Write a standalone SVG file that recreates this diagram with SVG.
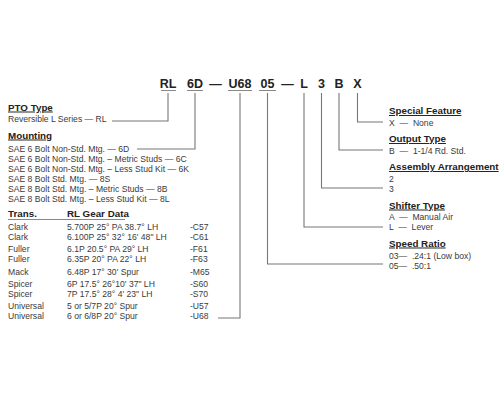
<svg xmlns="http://www.w3.org/2000/svg" width="500" height="400" viewBox="0 0 500 400">
<style>
text{font-family:"Liberation Sans",Arial,sans-serif;}
.code{font-size:12.5px;font-weight:bold;fill:#222;text-anchor:middle;}
.h{font-size:9.8px;font-weight:bold;fill:#222;text-decoration:underline;}
.hn{font-size:9.8px;font-weight:bold;fill:#222;}
.t{font-size:8.6px;fill:#3a3a3a;}
.ul{stroke:#888;stroke-width:1;}
.conn path{fill:none;stroke:#777;stroke-width:1.1;}
</style>
<rect width="500" height="400" fill="#fff"/>
<g id="code">
<text class="code" x="168" y="88">RL</text>
<text class="code" x="195" y="88">6D</text>
<text class="code" x="215.5" y="88">—</text>
<text class="code" x="240" y="88">U68</text>
<text class="code" x="267.5" y="88">05</text>
<text class="code" x="287.5" y="88">—</text>
<text class="code" x="304" y="88">L</text>
<text class="code" x="321.5" y="88">3</text>
<text class="code" x="339" y="88">B</text>
<text class="code" x="357.5" y="88">X</text>
<line class="ul" x1="161" y1="90.5" x2="176" y2="90.5"/>
<line class="ul" x1="187" y1="90.5" x2="203" y2="90.5"/>
<line class="ul" x1="228" y1="90.5" x2="252" y2="90.5"/>
<line class="ul" x1="259" y1="90.5" x2="276" y2="90.5"/>
</g>
<g id="pto">
<text class="h" x="8" y="110.5">PTO Type</text>
<text class="t" x="8" y="122">Reversible L Series — RL</text>
</g>
<g id="mounting">
<text class="h" x="8" y="138.5">Mounting</text>
<text class="t" x="8" y="151.5">SAE 6 Bolt Non-Std. Mtg. — 6D</text>
<text class="t" x="8" y="161.6">SAE 6 Bolt Non-Std. Mtg. – Metric Studs — 6C</text>
<text class="t" x="8" y="171.7">SAE 6 Bolt Non-Std. Mtg. – Less Stud Kit — 6K</text>
<text class="t" x="8" y="181.8">SAE 8 Bolt Std. Mtg. — 8S</text>
<text class="t" x="8" y="191.9">SAE 8 Bolt Std. Mtg. – Metric Studs — 8B</text>
<text class="t" x="8" y="202">SAE 8 Bolt Std. Mtg. – Less Stud Kit — 8L</text>
</g>
<g id="gear">
<text class="hn" x="8" y="216.5">Trans.</text>
<text class="hn" x="67" y="216.5">RL Gear Data</text>
<line class="ul" x1="8" y1="219.5" x2="125" y2="219.5"/>
<text class="t" x="8" y="230.4">Clark</text><text class="t" x="67" y="230.4">5.700P 25° PA 38.7° LH</text><text class="t" x="190" y="230.4">-C57</text>
<text class="t" x="8" y="240">Clark</text><text class="t" x="67" y="240">6.100P 25° 32° 16' 48" LH</text><text class="t" x="190" y="240">-C61</text>
<text class="t" x="8" y="252.4">Fuller</text><text class="t" x="67" y="252.4">6.1P 20.5° PA 29° LH</text><text class="t" x="190" y="252.4">-F61</text>
<text class="t" x="8" y="262.2">Fuller</text><text class="t" x="67" y="262.2">6.35P 20° PA 22° LH</text><text class="t" x="190" y="262.2">-F63</text>
<text class="t" x="8" y="274.5">Mack</text><text class="t" x="67" y="274.5">6.48P 17° 30' Spur</text><text class="t" x="190" y="274.5">-M65</text>
<text class="t" x="8" y="287">Spicer</text><text class="t" x="67" y="287">6P 17.5° 26°10' 37" LH</text><text class="t" x="190" y="287">-S60</text>
<text class="t" x="8" y="297.4">Spicer</text><text class="t" x="67" y="297.4">7P 17.5° 28° 4' 23" LH</text><text class="t" x="190" y="297.4">-S70</text>
<text class="t" x="8" y="309.2">Universal</text><text class="t" x="67" y="309.2">5 or 5/7P 20° Spur</text><text class="t" x="190" y="309.2">-U57</text>
<text class="t" x="8" y="319.2">Universal</text><text class="t" x="67" y="319.2">6 or 6/8P 20° Spur</text><text class="t" x="190" y="319.2">-U68</text>
</g>
<g id="special">
<text class="h" x="389" y="114">Special Feature</text>
<text class="t" x="389" y="125.5">X &#160;—&#160; None</text>
</g>
<g id="output">
<text class="h" x="389" y="142">Output Type</text>
<text class="t" x="389" y="153.5">B &#160;—&#160; 1-1/4 Rd. Std.</text>
</g>
<g id="assembly">
<text class="h" x="389" y="170">Assembly Arrangement</text>
<text class="t" x="389" y="182">2</text>
<text class="t" x="389" y="191.5">3</text>
</g>
<g id="shifter">
<text class="h" x="389" y="208.5">Shifter Type</text>
<text class="t" x="389" y="219.5">A &#160;—&#160; Manual Air</text>
<text class="t" x="389" y="230">L &#160;—&#160; Lever</text>
</g>
<g id="speed">
<text class="h" x="389" y="246.5">Speed Ratio</text>
<text class="t" x="389" y="258.5">03— &#160;.24:1 (Low box)</text>
<text class="t" x="389" y="268.5">05— &#160;.50:1</text>
</g>
<g id="connectors" class="conn">
<path d="M168,93 V121 H112"/>
<path d="M195,93 V149 H137"/>
<path d="M240,93 V318 H218"/>
<path d="M267.5,93 V264 H383"/>
<path d="M304,93 V227 H383"/>
<path d="M321.5,93 V188 H383"/>
<path d="M339,93 V150 H383"/>
<path d="M357.5,93 V122 H383"/>
</g>
</svg>
